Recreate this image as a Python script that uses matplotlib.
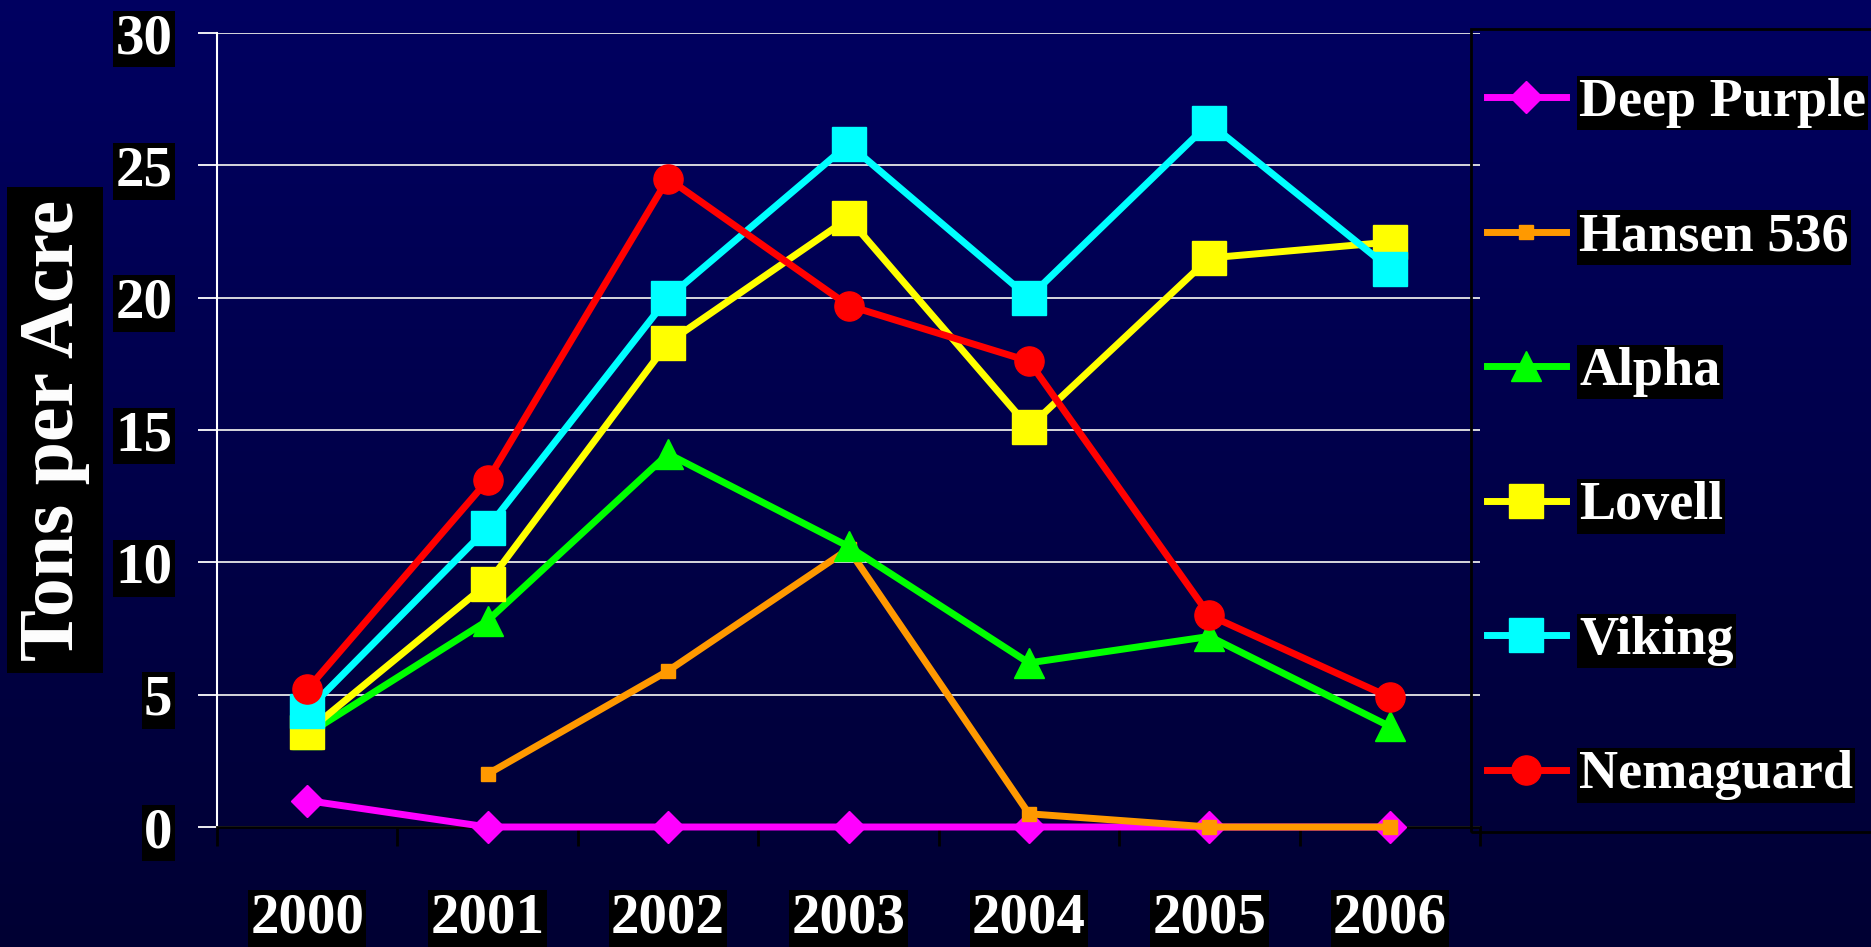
import matplotlib
matplotlib.use("Agg")
import matplotlib.pyplot as plt
from matplotlib.colors import LinearSegmentedColormap
from matplotlib.patches import Rectangle
import numpy as np

years = ["2000", "2001", "2002", "2003", "2004", "2005", "2006"]
series_names = ["Deep Purple", "Hansen 536", "Alpha", "Lovell", "Viking", "Nemaguard"]
deep_purple = [1.0, 0, 0, 0, 0, 0, 0]
hansen_536 = [np.nan, 2.0, 5.9, 10.5, 0.5, 0, 0]
alpha = [3.5, 7.8, 14.1, 10.6, 6.2, 7.2, 3.8]
lovell = [3.6, 9.2, 18.3, 23.0, 15.1, 21.5, 22.1]
viking = [4.4, 11.3, 20.0, 25.8, 20.0, 26.6, 21.1]
nemaguard = [5.2, 13.1, 24.5, 19.7, 17.6, 8.0, 4.9]
y_ticks = [0, 5, 10, 15, 20, 25, 30]

series = [deep_purple, hansen_536, alpha, lovell, viking, nemaguard]
colors = ["#FF00FF", "#FF9900", "#00FF00", "#FFFF00", "#00FFFF", "#FF0000"]
markers = ["D", "s", "^", "s", "s", "o"]
msizes = [16, 9.5, 22, 24, 24, 21]

W, H = 1871, 947
fig = plt.figure(figsize=(W / 100, H / 100), dpi=100)

# background gradient, navy at top fading darker at bottom
bg = fig.add_axes([0, 0, 1, 1], zorder=-10)
grad = np.linspace(0, 1, 256).reshape(-1, 1)
cmap = LinearSegmentedColormap.from_list("navy", [(0, 0, 0.20), (0, 0, 0.38)])
bg.imshow(grad, aspect="auto", cmap=cmap, extent=[0, 1, 0, 1], origin="lower")
bg.axis("off")

font = dict(family="Liberation Serif", weight="bold", color="white")
box = dict(facecolor="black", edgecolor="none", pad=1.5)

# plot area in pixel terms
left, right, top, bottom = 217, 1480, 33, 827
ax = fig.add_axes([left / W, (H - bottom) / H, (right - left) / W, (bottom - top) / H])
ax.set_facecolor("none")

x = np.arange(len(years))
handles = []
for vals, name, c, m, ms in zip(series, series_names, colors, markers, msizes):
    h, = ax.plot(x, vals, color=c, marker=m, markersize=ms, lw=5,
                 markeredgecolor=c, label=name, clip_on=False, zorder=3)
    handles.append(h)

ax.set_xlim(-0.5, 6.5)
ax.set_ylim(0, 30)
ax.set_yticks(y_ticks)
ax.yaxis.grid(True, color="#E8E8E8", lw=1.3)
ax.set_axisbelow(True)

for s in ["top", "right"]:
    ax.spines[s].set_visible(False)
ax.spines["left"].set_color("white")
ax.spines["left"].set_linewidth(1.5)
ax.spines["bottom"].set_color("black")
ax.spines["bottom"].set_linewidth(2)

ax.tick_params(axis="y", direction="out", length=14, width=1.3, color="white", pad=18)
ax.set_xticks(x)
ax.set_xticklabels(years)
ax.set_xticks(np.arange(-0.5, 7, 1), minor=True)
ax.tick_params(axis="x", which="major", length=0, pad=47)
ax.tick_params(axis="x", which="minor", direction="out", length=14, width=2, color="black")

for lab in ax.get_yticklabels() + ax.get_xticklabels():
    lab.set_fontfamily("Liberation Serif")
    lab.set_fontweight("bold")
    lab.set_fontsize(41)
    lab.set_color("white")
    lab.set_bbox(box)

fig.text(55 / W, 1 - 430 / H, "Tons per Acre", rotation=90, ha="center", va="center",
         fontsize=56, bbox=dict(facecolor="black", edgecolor="none", pad=9), **font)

# legend frame running past the right edge
fig.patches.append(Rectangle((1471 / W, (H - 832) / H), 500 / W, 803 / H,
                             transform=fig.transFigure, facecolor="none",
                             edgecolor="black", lw=2, zorder=1))

leg = fig.legend(handles, series_names, loc="upper left",
                 bbox_to_anchor=(1487 / W, 1 - 78 / H), frameon=False,
                 prop=dict(family="Liberation Serif", weight="bold", size=39),
                 handlelength=1.45, handletextpad=0.25, labelspacing=1.56,
                 borderpad=0, borderaxespad=0)
for t in leg.get_texts():
    t.set_color("white")
    t.set_bbox(box)

fig.savefig("out.png", dpi=100, facecolor="black")
